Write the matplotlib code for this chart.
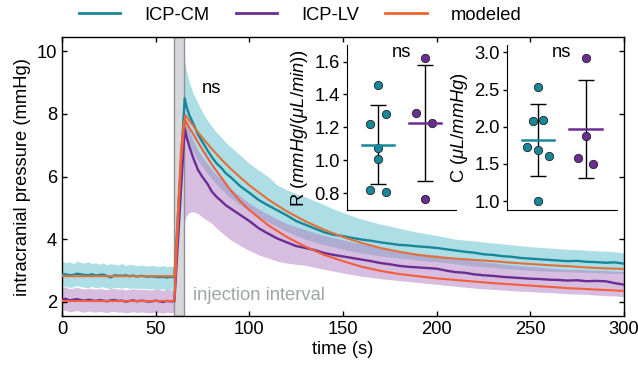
import numpy as np
import matplotlib
matplotlib.use("Agg")
import matplotlib.pyplot as plt
from matplotlib.lines import Line2D

plt.rcParams['font.family'] = ['Liberation Sans', 'DejaVu Sans']
plt.rcParams['mathtext.fontset'] = 'custom'
plt.rcParams['mathtext.rm'] = 'Liberation Sans'
plt.rcParams['mathtext.it'] = 'Liberation Sans:italic'
FS = 13.2
plt.rcParams['font.size'] = FS

# ---------------- data ----------------
t_base = list(range(0, 61, 2))
t_decay = [65.5, 66.5, 68, 70, 72.5, 75, 77.5, 80, 82.5, 85, 87.5, 90] + list(range(95, 301, 5))
time = t_base + t_decay

icp_cm = [2.87, 2.88, 2.85, 2.86, 2.90, 2.88, 2.86, 2.85, 2.88, 2.84, 2.86, 2.87, 2.83, 2.78, 2.85, 2.84,
          2.83, 2.85, 2.82, 2.84, 2.81, 2.83, 2.82, 2.80, 2.82, 2.80, 2.79, 2.80, 2.78, 2.80, 2.79,
          8.50, 8.22, 7.95, 7.70, 7.35, 7.10, 6.85, 6.62, 6.42, 6.28, 6.10, 5.98,
          5.70, 5.48, 5.25, 5.08, 4.92, 4.76, 4.58, 4.46, 4.34, 4.22, 4.14, 4.10, 4.04, 3.99, 3.95, 3.90,
          3.86, 3.82, 3.80, 3.77, 3.75, 3.72, 3.68, 3.64, 3.60, 3.57, 3.52, 3.50, 3.46, 3.44, 3.40, 3.38,
          3.36, 3.34, 3.32, 3.30, 3.31, 3.28, 3.27, 3.25, 3.26, 3.22]
icp_cm_hi = [3.30, 3.25, 3.28, 3.22, 3.30, 3.26, 3.24, 3.28, 3.22, 3.25, 3.20, 3.24, 3.18, 3.22, 3.20, 3.18,
             3.22, 3.16, 3.20, 3.18, 3.15, 3.18, 3.16, 3.14, 3.17, 3.15, 3.13, 3.16, 3.12, 3.14, 3.12,
             9.70, 9.35, 9.00, 8.65, 8.35, 8.05, 7.80, 7.60, 7.40, 7.25, 7.08, 6.95,
             6.68, 6.42, 6.20, 6.00, 5.72, 5.58, 5.45, 5.35, 5.22, 5.10, 4.96, 4.85, 4.74, 4.64, 4.56, 4.48,
             4.42, 4.35, 4.28, 4.22, 4.17, 4.12, 4.06, 4.00, 3.97, 3.95, 3.91, 3.88, 3.85, 3.82, 3.79, 3.76,
             3.74, 3.72, 3.70, 3.68, 3.67, 3.65, 3.63, 3.62, 3.60, 3.56]
icp_cm_lo = [2.48, 2.50, 2.46, 2.48, 2.52, 2.49, 2.47, 2.46, 2.50, 2.45, 2.47, 2.48, 2.44, 2.42, 2.46, 2.45,
             2.44, 2.46, 2.43, 2.45, 2.42, 2.44, 2.43, 2.41, 2.43, 2.41, 2.40, 2.42, 2.39, 2.41, 2.40,
             7.50, 7.25, 7.00, 6.80, 6.52, 6.30, 6.10, 5.92, 5.75, 5.60, 5.45, 5.32,
             5.10, 4.90, 4.72, 4.55, 4.40, 4.25, 4.12, 4.00, 3.90, 3.82, 3.75, 3.68, 3.62, 3.56, 3.51, 3.47,
             3.43, 3.40, 3.37, 3.33, 3.30, 3.28, 3.25, 3.21, 3.18, 3.15, 3.12, 3.10, 3.07, 3.05, 3.03, 3.01,
             2.99, 2.98, 2.97, 2.96, 2.95, 2.94, 2.93, 2.92, 2.91, 2.90]

icp_lv = [2.08, 2.10, 2.05, 2.07, 2.09, 2.06, 2.04, 2.07, 2.05, 2.03, 2.06, 2.04, 2.02, 2.05, 2.06, 2.03,
          2.04, 2.01, 2.03, 2.05, 2.02, 2.04, 2.03, 2.01, 2.02, 2.04, 2.02, 2.00, 2.03, 2.02, 2.02,
          7.55, 7.25, 6.95, 6.60, 6.22, 5.98, 5.78, 5.52, 5.35, 5.22, 5.08, 4.98,
          4.78, 4.58, 4.35, 4.18, 4.02, 3.90, 3.78, 3.72, 3.65, 3.56, 3.50, 3.45, 3.40, 3.35, 3.30, 3.24,
          3.20, 3.15, 3.12, 3.10, 3.08, 3.06, 3.00, 2.95, 2.93, 2.88, 2.85, 2.83, 2.80, 2.78, 2.76, 2.74,
          2.73, 2.71, 2.70, 2.68, 2.69, 2.66, 2.67, 2.66, 2.60, 2.55]
icp_lv_hi = [2.45, 2.48, 2.42, 2.44, 2.47, 2.43, 2.41, 2.44, 2.42, 2.40, 2.43, 2.41, 2.39, 2.42, 2.43, 2.40,
             2.41, 2.38, 2.40, 2.42, 2.39, 2.41, 2.40, 2.38, 2.39, 2.41, 2.39, 2.37, 2.40, 2.39, 2.39,
             7.95, 7.70, 7.45, 7.15, 6.85, 6.62, 6.42, 6.22, 6.05, 5.90, 5.75, 5.62,
             5.38, 5.15, 4.96, 4.80, 4.64, 4.50, 4.40, 4.30, 4.20, 4.12, 4.05, 3.98, 3.91, 3.85, 3.79, 3.73,
             3.67, 3.62, 3.58, 3.55, 3.52, 3.50, 3.44, 3.38, 3.35, 3.32, 3.28, 3.25, 3.21, 3.18, 3.15, 3.13,
             3.11, 3.08, 3.06, 3.04, 3.04, 3.02, 3.01, 3.00, 2.98, 2.97]
icp_lv_lo = [1.72, 1.74, 1.68, 1.70, 1.73, 1.69, 1.67, 1.71, 1.69, 1.67, 1.70, 1.68, 1.66, 1.69, 1.70, 1.67,
             1.68, 1.65, 1.67, 1.69, 1.66, 1.68, 1.67, 1.65, 1.66, 1.68, 1.66, 1.64, 1.67, 1.66, 1.66,
             4.60, 4.75, 4.85, 4.88, 4.82, 4.70, 4.60, 4.50, 4.35, 4.22, 4.10, 3.98,
             3.80, 3.64, 3.50, 3.40, 3.30, 3.24, 3.20, 3.17, 3.10, 3.04, 2.98, 2.92, 2.87, 2.82, 2.78, 2.74,
             2.71, 2.68, 2.65, 2.62, 2.59, 2.56, 2.53, 2.50, 2.47, 2.44, 2.42, 2.40, 2.38, 2.36, 2.34, 2.33,
             2.31, 2.30, 2.28, 2.26, 2.25, 2.24, 2.22, 2.20, 2.19, 2.17]

t_model = [0, 60, 61, 62, 63.5, 65, 66, 68, 70, 72, 75, 80, 85, 90, 95] + list(range(100, 301, 10))
model_cm = [2.82, 2.82, 3.8, 5.0, 6.8, 7.7, 7.95, 7.78, 7.62, 7.46, 7.23, 6.88, 6.55, 6.25, 5.98,
            5.72, 5.27, 4.89, 4.57, 4.30, 4.07, 3.88, 3.72, 3.60, 3.50, 3.43, 3.38, 3.34, 3.30, 3.25,
            3.21, 3.17, 3.14, 3.10, 3.07, 3.05]
model_lv = [2.03, 2.03, 3.3, 4.6, 6.4, 7.5, 7.78, 7.55, 7.36, 7.15, 6.85, 6.38, 5.97, 5.56, 5.22,
            4.93, 4.45, 4.07, 3.76, 3.50, 3.30, 3.12, 2.99, 2.89, 2.82, 2.75, 2.70, 2.65, 2.60, 2.56,
            2.52, 2.48, 2.44, 2.41, 2.38, 2.35]

injection = (60, 65)

# inset data
R_cm = [1.455, 1.283, 1.22, 1.077, 1.008, 0.822, 0.81]
R_lv = [1.624, 1.285, 1.23, 0.766]
C_cm = [2.53, 2.074, 2.096, 1.733, 1.689, 1.608, 0.995]
C_lv = [2.923, 1.877, 1.581, 1.50]
# swarm offsets (layout only)
R_cm_dx = [0, 0.17, -0.17, 0, 0, -0.17, 0.17]
R_lv_dx = [0, -0.18, 0.16, 0]
C_cm_dx = [0, -0.11, 0.11, -0.23, 0, 0.22, 0]
C_lv_dx = [0, 0, -0.17, 0.16]

teal = '#17879a'
purple = '#6a2d93'
orange_cm = '#e2703a'
orange_lv = '#f45d3a'
orange_leg = '#f0652f'

# ---------------- figure ----------------
fig = plt.figure(figsize=(6.38, 3.71), dpi=100)
ax = fig.add_axes([0.0972, 0.1482, 0.8808, 0.7521])

ax.fill_between(time, icp_cm_lo, icp_cm_hi, color='#6cc3d1', alpha=0.55, lw=0, zorder=1)
ax.fill_between(time, icp_lv_lo, icp_lv_hi, color='#b07cc0', alpha=0.5, lw=0, zorder=1.1)
ax.axvspan(*injection, facecolor='#d6d8dc', edgecolor='#8e9196', lw=1.0, zorder=2)
ax.plot(time, icp_cm, color=teal, lw=1.7, zorder=3)
ax.plot(time, icp_lv, color=purple, lw=1.7, zorder=3)
ax.plot(t_model, model_cm, color=orange_cm, lw=1.5, zorder=3.5)
ax.plot(t_model, model_lv, color=orange_lv, lw=1.5, zorder=3.5)

ax.set_xlim(0, 300)
ax.set_ylim(1.55, 10.45)
ax.set_xticks([0, 50, 100, 150, 200, 250, 300])
ax.set_yticks([2, 4, 6, 8, 10])
ax.tick_params(direction='in', top=True, right=True, length=3.5, width=1, labelsize=FS)
ax.set_xlabel('time (s)', fontsize=FS, labelpad=2)
ax.set_ylabel('intracranial pressure (mmHg)', fontsize=FS)
for s in ax.spines.values():
    s.set_linewidth(1)
ax.text(70, 2.19, 'injection interval', color='#a0a4a8', fontsize=FS, va='center', ha='left')
ax.text(74.5, 8.82, 'ns', fontsize=FS, va='center', ha='left')

# legend
handles = [Line2D([], [], color=teal, lw=2), Line2D([], [], color=purple, lw=2),
           Line2D([], [], color=orange_leg, lw=2)]
fig.legend(handles, ['ICP-CM', 'ICP-LV', 'modeled'], loc='center', ncol=3,
           bbox_to_anchor=(300 / 638, 1 - 15 / 371), frameon=False, fontsize=FS,
           handlelength=2.25, handletextpad=1.3, columnspacing=1.45)


def inset(rect, cm, lv, cm_dx, lv_dx, ylim, yticks, ylabel, fmt):
    a = fig.add_axes(rect)
    a.set_facecolor('none')
    for vals, dx, pos, col in ((cm, cm_dx, 1, teal), (lv, lv_dx, 2, purple)):
        v = np.array(vals)
        m = v.mean()
        sd = v.std(ddof=1)
        a.scatter(pos + np.array(dx), v, s=36, color=col, edgecolor='#222222', linewidth=0.6, zorder=4)
        a.errorbar(pos, m, yerr=sd, color='black', lw=1, capsize=5.5, capthick=1, zorder=3)
        a.plot([pos - 0.34, pos + 0.34], [m, m], color=col, lw=1.8, zorder=5)
    a.set_xlim(0.34, 2.66)
    a.set_ylim(*ylim)
    a.set_yticks(yticks)
    a.set_yticklabels([fmt.format(y) for y in yticks])
    a.set_xticks([])
    a.spines['top'].set_visible(False)
    a.spines['right'].set_visible(False)
    a.tick_params(axis='y', direction='out', length=3, width=1, labelsize=FS, pad=2)
    a.set_ylabel(ylabel, fontsize=FS, labelpad=3)
    a.text(1.5, ylim[1] - 0.045 * (ylim[1] - ylim[0]), 'ns', ha='center', va='center', fontsize=FS)
    return a


inset([0.5434, 0.434, 0.1713, 0.4447], R_cm, R_lv, R_cm_dx, R_lv_dx, (0.7, 1.7),
      [0.8, 1.0, 1.2, 1.4, 1.6], r'R $(mmHg/(\mu L/min))$', '{:.1f}')
inset([0.7942, 0.434, 0.1729, 0.4447], C_cm, C_lv, C_cm_dx, C_lv_dx, (0.88, 3.1),
      [1.0, 1.5, 2.0, 2.5, 3.0], r'C $(\mu L/mmHg)$', '{:.1f}')

fig.savefig('out.png', dpi=100)
